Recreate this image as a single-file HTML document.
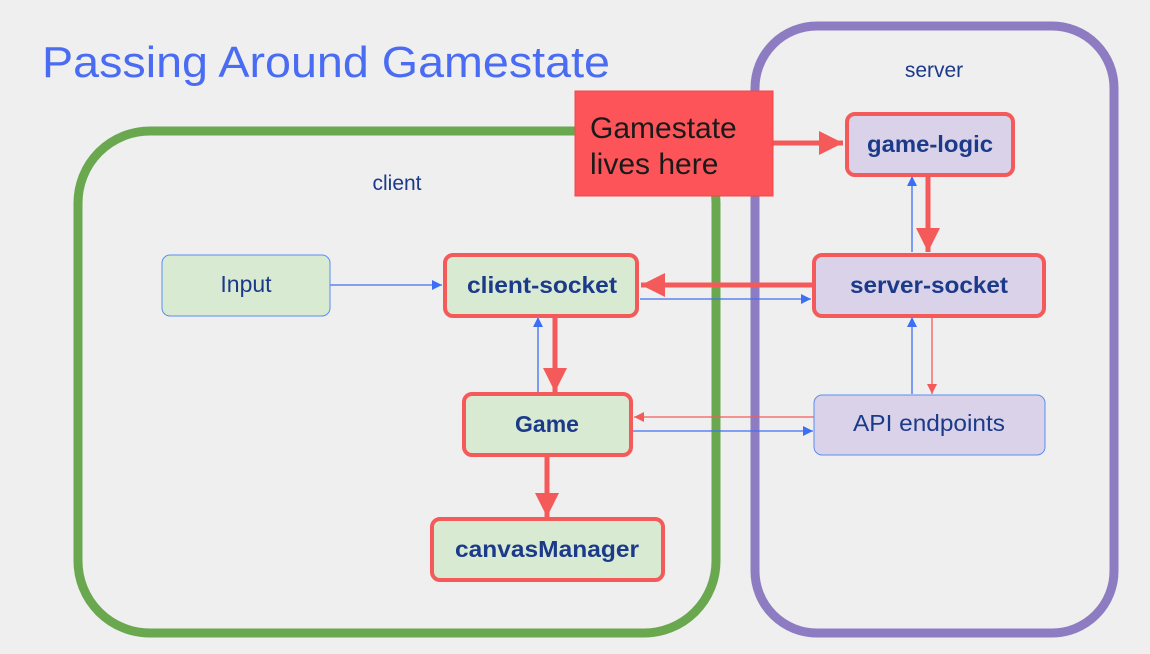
<!DOCTYPE html>
<html><head><meta charset="utf-8"><style>
html,body{margin:0;padding:0;background:#efefef;}
svg{display:block;font-family:"Liberation Sans",sans-serif;}
</style></head><body>
<svg width="1150" height="654" viewBox="0 0 1150 654" xmlns="http://www.w3.org/2000/svg">
<defs>
<marker id="bt" viewBox="0 0 10 10" refX="10" refY="5" markerWidth="10" markerHeight="10" markerUnits="userSpaceOnUse" orient="auto"><path d="M0,0 L10,5 L0,10 z" fill="#3d6ff5"/></marker>
<marker id="rt" viewBox="0 0 10 10" refX="10" refY="5" markerWidth="10" markerHeight="10" markerUnits="userSpaceOnUse" orient="auto"><path d="M0,0 L10,5 L0,10 z" fill="#f55a5a"/></marker>
<marker id="rT" viewBox="0 0 10 10" refX="10" refY="5" markerWidth="30" markerHeight="24" markerUnits="userSpaceOnUse" orient="auto"><path d="M0,0 L10,5 L0,10 z" fill="#f55a5a"/></marker>
</defs>
<rect width="1150" height="654" fill="#efefef"/>
<text x="42" y="77" font-size="44" fill="#4a6cf2" textLength="568" lengthAdjust="spacingAndGlyphs">Passing Around Gamestate</text>
<rect x="78" y="131" width="638" height="502" rx="72" fill="none" stroke="#6aa84f" stroke-width="9"/>
<rect x="755" y="26" width="359" height="607" rx="62" fill="none" stroke="#8e7cc3" stroke-width="9"/>
<text x="934" y="77" font-size="21" fill="#1c3a8a" text-anchor="middle">server</text>
<text x="397" y="190" font-size="21" fill="#1c3a8a" text-anchor="middle">client</text>

<line x1="330" y1="285" x2="442" y2="285" stroke="#3d6ff5" stroke-width="1.3" marker-end="url(#bt)"/>
<line x1="640" y1="299" x2="811" y2="299" stroke="#3d6ff5" stroke-width="1.3" marker-end="url(#bt)"/>
<line x1="538" y1="392" x2="538" y2="317" stroke="#3d6ff5" stroke-width="1.3" marker-end="url(#bt)"/>
<line x1="814" y1="417" x2="634" y2="417" stroke="#f55a5a" stroke-width="1.3" marker-end="url(#rt)"/>
<line x1="632" y1="431" x2="813" y2="431" stroke="#3d6ff5" stroke-width="1.3" marker-end="url(#bt)"/>
<line x1="912" y1="252" x2="912" y2="176" stroke="#3d6ff5" stroke-width="1.3" marker-end="url(#bt)"/>
<line x1="912" y1="394" x2="912" y2="317" stroke="#3d6ff5" stroke-width="1.3" marker-end="url(#bt)"/>
<line x1="932" y1="317" x2="932" y2="394" stroke="#f55a5a" stroke-width="1.3" marker-end="url(#rt)"/>
<line x1="812" y1="285" x2="641" y2="285" stroke="#f55a5a" stroke-width="5" marker-end="url(#rT)"/>
<line x1="555" y1="317" x2="555" y2="392" stroke="#f55a5a" stroke-width="5" marker-end="url(#rT)"/>
<line x1="547" y1="457" x2="547" y2="517" stroke="#f55a5a" stroke-width="5" marker-end="url(#rT)"/>
<line x1="928" y1="176" x2="928" y2="252" stroke="#f55a5a" stroke-width="5" marker-end="url(#rT)"/>
<line x1="773" y1="143" x2="843" y2="143" stroke="#f55a5a" stroke-width="5" marker-end="url(#rT)"/>

<rect x="575" y="91" width="198" height="105" fill="#fc5458" stroke="#f04848" stroke-width="1"/>
<text font-size="30" fill="#1a1a1a"><tspan x="590" y="138">Gamestate</tspan><tspan x="590" y="174">lives here</tspan></text>

<g font-size="23" text-anchor="middle">
<rect x="847" y="114" width="166" height="61" rx="8" fill="#d9d2e9" stroke="#f55a5a" stroke-width="4"/>
<text x="930" y="152" font-weight="bold" fill="#1c3a8a" textLength="126" lengthAdjust="spacingAndGlyphs">game-logic</text>
<rect x="814" y="255" width="230" height="61" rx="8" fill="#d9d2e9" stroke="#f55a5a" stroke-width="4"/>
<text x="929" y="293" font-weight="bold" fill="#1c3a8a" textLength="158" lengthAdjust="spacingAndGlyphs">server-socket</text>
<rect x="445" y="255" width="192" height="61" rx="8" fill="#d9ead3" stroke="#f55a5a" stroke-width="4"/>
<text x="542" y="293" font-weight="bold" fill="#1c3a8a" textLength="150" lengthAdjust="spacingAndGlyphs">client-socket</text>
<rect x="162" y="255" width="168" height="61" rx="8" fill="#d9ead3" stroke="#5b8ef0" stroke-width="1"/>
<text x="246" y="292" fill="#1c3a8a">Input</text>
<rect x="464" y="394" width="167" height="61" rx="8" fill="#d9ead3" stroke="#f55a5a" stroke-width="4"/>
<text x="547" y="432" font-weight="bold" fill="#1c3a8a">Game</text>
<rect x="432" y="519" width="231" height="61" rx="8" fill="#d9ead3" stroke="#f55a5a" stroke-width="4"/>
<text x="547" y="557" font-weight="bold" fill="#1c3a8a" textLength="184" lengthAdjust="spacingAndGlyphs">canvasManager</text>
<rect x="814" y="395" width="231" height="60" rx="8" fill="#d9d2e9" stroke="#5b8ef0" stroke-width="1"/>
<text x="929" y="431" fill="#1c3a8a" textLength="152" lengthAdjust="spacingAndGlyphs">API endpoints</text>
</g>
</svg>
</body></html>
